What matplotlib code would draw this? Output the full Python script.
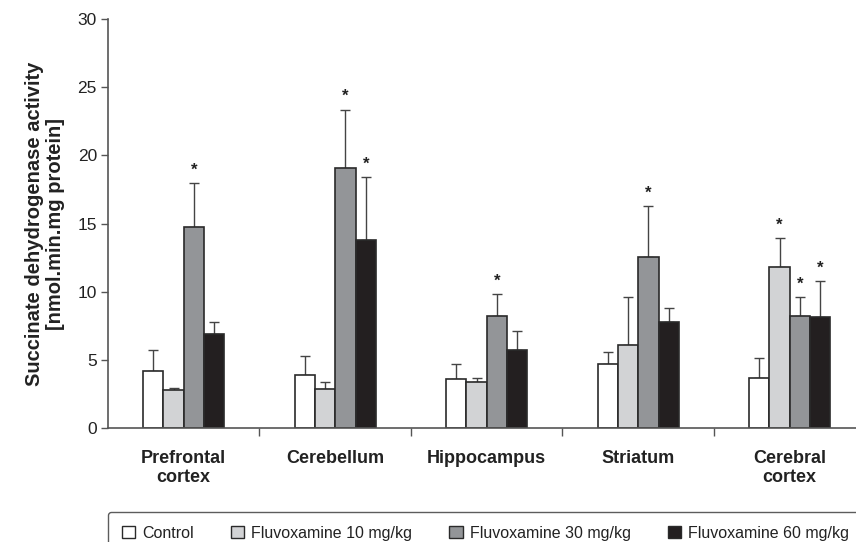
import numpy as np
import matplotlib
matplotlib.use('Agg')
import matplotlib.pyplot as plt
from matplotlib.patches import Patch

plt.rcParams['font.family'] = ['Liberation Sans', 'DejaVu Sans']

regions = ['Prefrontal\ncortex', 'Cerebellum', 'Hippocampus', 'Striatum', 'Cerebral\ncortex']
groups = ['Control', 'Fluvoxamine 10 mg/kg', 'Fluvoxamine 30 mg/kg', 'Fluvoxamine 60 mg/kg']

# mean values per group, one entry per region
control = [4.18, 3.86, 3.57, 4.67, 3.64]
fluv10 = [2.79, 2.89, 3.35, 6.09, 11.79]
fluv30 = [14.72, 19.05, 8.24, 12.57, 8.24]
fluv60 = [6.87, 13.77, 5.70, 7.80, 8.17]

# upper error (SD)
control_err = [1.54, 1.44, 1.13, 0.93, 1.47]
fluv10_err = [0.17, 0.51, 0.34, 3.54, 2.13]
fluv30_err = [3.25, 4.30, 1.57, 3.69, 1.35]
fluv60_err = [0.91, 4.62, 1.39, 0.98, 2.62]

# significance markers
control_sig = [False, False, False, False, False]
fluv10_sig = [False, False, False, False, True]
fluv30_sig = [True, True, True, True, True]
fluv60_sig = [False, True, False, False, True]

colors = ['#ffffff', '#d2d3d5', '#939598', '#231f20']
edge = '#2a2a2a'
axis_col = '#555555'

fig = plt.figure(figsize=(8.56, 5.42), dpi=100)
ax = fig.add_axes([108 / 856, 1 - 428 / 542, 748 / 856, (428 - 19) / 542])

x = np.arange(len(regions))
w = 0.134
series = [
    (control, control_err, control_sig),
    (fluv10, fluv10_err, fluv10_sig),
    (fluv30, fluv30_err, fluv30_sig),
    (fluv60, fluv60_err, fluv60_sig),
]
for i, (vals, errs, sig) in enumerate(series):
    pos = x + (i - 1.5) * w
    ax.bar(pos, vals, width=w, color=colors[i], edgecolor=edge, linewidth=1.2,
           zorder=2)
    ax.errorbar(pos, vals, yerr=[np.zeros(len(vals)), errs], fmt='none',
                ecolor='#444444', elinewidth=1.0, capsize=3.5, capthick=1.0,
                zorder=1)
    for p, v, e, s in zip(pos, vals, errs, sig):
        if s:
            ax.text(p, v + e + 0.4, '*', ha='center', va='bottom',
                    fontsize=12, fontweight='bold', color='#222222')

ax.set_xlim(-0.5, -0.5 + 748 / 151.5)
ax.set_ylim(0, 30)
ax.set_yticks(np.arange(0, 31, 5))
ax.tick_params(axis='y', direction='out', length=5, width=1, color=axis_col,
               labelsize=12.5, pad=3, labelcolor='#222222')

ax.set_xticks(x[:-1] + 0.5)
ax.set_xticklabels([])
ax.set_xticks(x, minor=True)
ax.set_xticklabels(regions, minor=True, fontsize=13, fontweight='bold',
                   color='#222222', linespacing=1.1)
ax.tick_params(axis='x', which='major', direction='out', length=6, width=1,
               color=axis_col)
ax.tick_params(axis='x', which='minor', length=0, pad=16)

for side in ['top', 'right']:
    ax.spines[side].set_visible(False)
for side in ['left', 'bottom']:
    ax.spines[side].set_color(axis_col)
    ax.spines[side].set_linewidth(1.2)

ax.set_ylabel('Succinate dehydrogenase activity\n[nmol.min.mg protein]',
              fontsize=14.5, fontweight='bold', color='#222222', labelpad=9,
              linespacing=1.15)

handles = [Patch(facecolor=c, edgecolor=edge, linewidth=1.0) for c in colors]
leg = fig.legend(handles, groups, loc='upper left', ncol=4,
                 bbox_to_anchor=(108 / 856, 1 - 512 / 542),
                 fontsize=11.5, frameon=True, fancybox=True,
                 handlelength=0.85, handleheight=0.85, handletextpad=0.45,
                 columnspacing=2.3, borderpad=0.85, borderaxespad=0)
frame = leg.get_frame()
frame.set_edgecolor('#333333')
frame.set_linewidth(1.0)
for t in leg.get_texts():
    t.set_color('#222222')

fig.savefig('out.png', dpi=100)
